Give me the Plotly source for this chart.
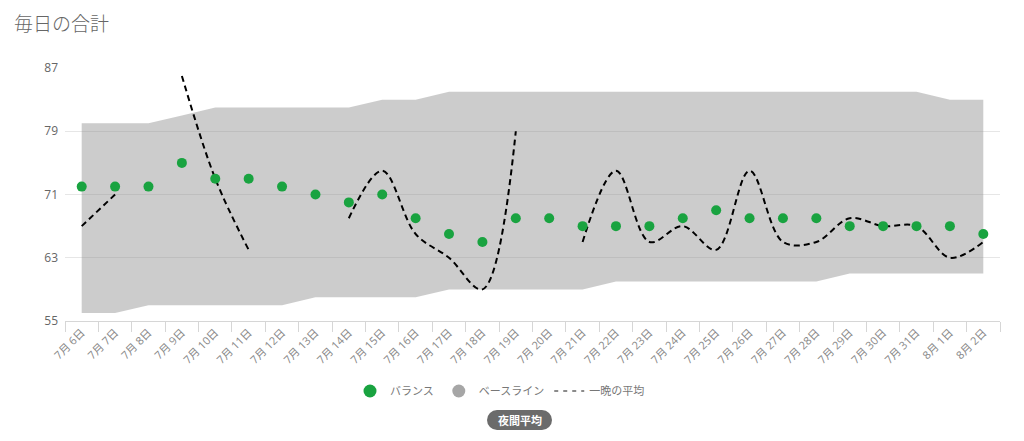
import plotly.graph_objects as go

# --- data ---
dates = ["7月 6日", "7月 7日", "7月 8日", "7月 9日", "7月 10日", "7月 11日", "7月 12日",
         "7月 13日", "7月 14日", "7月 15日", "7月 16日", "7月 17日", "7月 18日", "7月 19日",
         "7月 20日", "7月 21日", "7月 22日", "7月 23日", "7月 24日", "7月 25日", "7月 26日",
         "7月 27日", "7月 28日", "7月 29日", "7月 30日", "7月 31日", "8月 1日", "8月 2日"]

balance = [72, 72, 72, 75, 73, 73, 72, 71, 70, 71, 68, 66, 65, 68,
           68, 67, 67, 67, 68, 69, 68, 68, 68, 67, 67, 67, 67, 66]

baseline_low = [56, 56, 57, 57, 57, 57, 57, 58, 58, 58, 58, 59, 59, 59,
                59, 59, 60, 60, 60, 60, 60, 60, 60, 61, 61, 61, 61, 61]
baseline_high = [80, 80, 80, 81, 82, 82, 82, 82, 82, 83, 83, 84, 84, 84,
                 84, 84, 84, 84, 84, 84, 84, 84, 84, 84, 84, 84, 83, 83]

night_avg = [67, 71, None, 86, 73, 64, None, None, 68, 74, 66, 63, 59, 79,
             None, 65, 74, 65, 67, 64, 74, 65, 65, 68, 67, 67, 63, 65]

y_ticks = [55, 63, 71, 79, 87]

GREEN = "#19a340"
FONT = "Open Sans, Noto Sans CJK JP, sans-serif"

# the page body adds an 8px offset, so the figure is 8px smaller than the window
OFF = 8
W, H = 1024 - OFF, 441 - OFF
ML, MR, MT, MB = 65 - OFF, 24, 68 - OFF, 120
PW, PH = W - ML - MR, H - MT - MB


# helpers: window pixel -> paper coordinate
def px_x(px):
    return (px - OFF - ML) / PW


def px_y(py):
    return (H - MB - (py - OFF)) / PH


fig = go.Figure()

# baseline band
fig.add_trace(go.Scatter(x=dates, y=baseline_low, mode="lines", line=dict(width=0),
                         showlegend=False, hoverinfo="skip"))
fig.add_trace(go.Scatter(x=dates, y=baseline_high, mode="lines", line=dict(width=0),
                         fill="tonexty", fillcolor="rgba(139,139,139,0.44)",
                         showlegend=False, hoverinfo="skip"))

# night average (dashed spline with gaps)
fig.add_trace(go.Scatter(x=dates, y=night_avg, mode="lines",
                         line=dict(color="black", width=2, dash="6px,4px",
                                   shape="spline", smoothing=1),
                         showlegend=False))

# balance points
fig.add_trace(go.Scatter(x=dates, y=balance, mode="markers",
                         marker=dict(color=GREEN, size=10),
                         showlegend=False))

# legend entries
fig.add_trace(go.Scatter(x=[None], y=[None], mode="markers", name="バランス",
                         marker=dict(color=GREEN, size=13)))
fig.add_trace(go.Scatter(x=[None], y=[None], mode="markers", name="ベースライン",
                         marker=dict(color="#a6a6a6", size=13)))
fig.add_trace(go.Scatter(x=[None], y=[None], mode="lines", name="一晩の平均",
                         line=dict(color="#666666", width=1.5, dash="4px,5px")))

# "夜間平均" pill button under the legend
btn_col = "#6b6b6b"
bx0, bx1, by0, by1, r = 487, 552, 410, 430, 10
shapes = [
    dict(type="rect", xref="paper", yref="paper",
         x0=px_x(bx0 + r), x1=px_x(bx1 - r), y0=px_y(by1), y1=px_y(by0),
         fillcolor=btn_col, line=dict(width=0)),
    dict(type="circle", xref="paper", yref="paper",
         x0=px_x(bx0), x1=px_x(bx0 + 2 * r), y0=px_y(by1), y1=px_y(by0),
         fillcolor=btn_col, line=dict(width=0)),
    dict(type="circle", xref="paper", yref="paper",
         x0=px_x(bx1 - 2 * r), x1=px_x(bx1), y0=px_y(by1), y1=px_y(by0),
         fillcolor=btn_col, line=dict(width=0)),
]

fig.add_annotation(text="<b>夜間平均</b>", xref="paper", yref="paper",
                   x=px_x((bx0 + bx1) / 2), y=px_y((by0 + by1) / 2),
                   xanchor="center", yanchor="middle", showarrow=False,
                   font=dict(family=FONT, size=11, color="white"))

fig.update_layout(
    width=W, height=H,
    margin=dict(l=ML, r=MR, t=MT, b=MB),
    paper_bgcolor="white", plot_bgcolor="white",
    font=dict(family=FONT, color="#666666"),
    title=dict(text="毎日の合計", x=(14 - OFF) / W, xanchor="left", xref="container",
               y=1 - (24 - OFF) / H, yanchor="middle", yref="container",
               font=dict(family=FONT, size=19, color="#666666", weight=300)),
    shapes=shapes,
    legend=dict(orientation="h", traceorder="normal", x=px_x(500), xanchor="center",
                y=px_y(391), yanchor="middle",
                font=dict(family=FONT, size=11, color="#777777")),
    hovermode="x",
)

fig.update_xaxes(type="category", range=[-0.5, len(dates) - 0.5],
                 tickangle=-45, tickson="boundaries", ticks="outside",
                 ticklen=10, tickcolor="#d6d6d6", showline=True,
                 linecolor="#d6d6d6", linewidth=1, showgrid=False,
                 tickfont=dict(family=FONT, size=11, color="#888888"),
                 automargin=False, fixedrange=True)
fig.update_yaxes(range=[55, 87], tickvals=y_ticks, showgrid=True,
                 gridcolor="#e6e6e6", gridwidth=1, zeroline=False,
                 showline=False, ticks="", ticklabelstandoff=6,
                 tickfont=dict(family=FONT, size=12, color="#666666"),
                 automargin=False, fixedrange=True)

fig.write_html("out.html")
